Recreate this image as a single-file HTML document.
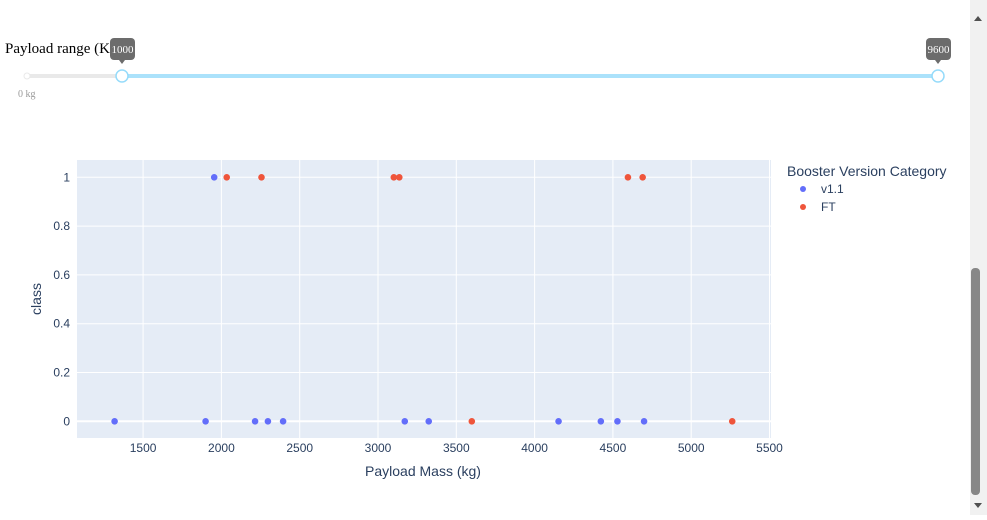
<!DOCTYPE html>
<html><head><meta charset="utf-8"><style>
body{margin:0;width:987px;height:515px;overflow:hidden;background:#fff;font-family:"Liberation Sans",sans-serif;}
</style></head><body>
<svg width="987" height="515" xmlns="http://www.w3.org/2000/svg">
<g>
<text x="5" y="53" font-family="Liberation Serif" font-size="15" fill="#000">Payload range (Kg</text>
<line x1="27" y1="76" x2="122" y2="76" stroke="#e9e9e9" stroke-width="4"/>
<line x1="122" y1="76" x2="938" y2="76" stroke="#abe2fb" stroke-width="4"/>
<circle cx="27" cy="76" r="3" fill="#fff" stroke="#e9e9e9"/>
<text x="18" y="97" font-family="Liberation Serif" font-size="10" fill="#999">0 kg</text>
<circle cx="122" cy="76" r="6" fill="#fff" stroke="#96dbfa" stroke-width="1.5"/>
<circle cx="938" cy="76" r="6" fill="#fff" stroke="#96dbfa" stroke-width="1.5"/>
<g><rect x="110" y="38" width="25" height="22" rx="4" fill="#6c6c6c"/><path d="M119 60 L122 64 L125 60Z" fill="#6c6c6c"/><text x="122.5" y="53" text-anchor="middle" font-family="Liberation Serif" font-size="11" fill="#fff">1000</text></g>
<g><rect x="926" y="38" width="25" height="22" rx="4" fill="#6c6c6c"/><path d="M935 60 L938 64 L941 60Z" fill="#6c6c6c"/><text x="938.5" y="53" text-anchor="middle" font-family="Liberation Serif" font-size="11" fill="#fff">9600</text></g>
</g>
<rect x="77" y="160" width="694" height="278" fill="#e5ecf6"/>
<g id="grid"></g><g id="ticks"></g><g id="pts"></g>
<text x="423" y="476" text-anchor="middle" font-size="14" fill="#2a3f5f">Payload Mass (kg)</text>
<text transform="translate(41,299) rotate(-90)" text-anchor="middle" font-size="14" fill="#2a3f5f">class</text>
<g>
<text x="787" y="176" font-size="14" fill="#2a3f5f">Booster Version Category</text>
<g><circle cx="803" cy="189" r="3" fill="#636efa"/><text x="821" y="193" font-size="12" fill="#2a3f5f">v1.1</text></g>
<g><circle cx="803" cy="207" r="3" fill="#ef553b"/><text x="821" y="211" font-size="12" fill="#2a3f5f">FT</text></g>
</g>
<g>
<rect x="970" y="0" width="17" height="515" fill="#f1f1f1"/>
<path d="M974 21 L978 16 L982 21Z" fill="#505050"/>
<path d="M974 503 L978 508 L982 503Z" fill="#505050"/>
<rect x="971" y="268" width="9" height="227" rx="4" fill="#878787"/>
</g>
</svg>
<script>
const xTicks=[1500,2000,2500,3000,3500,4000,4500,5000,5500];
const yTicks=[0,0.2,0.4,0.6,0.8,1];
const yTickLabels=["0","0.2","0.4","0.6","0.8","1"];
const v11Mass=[1954,1318,1899,2215,2297,2394,3171,3324,4153,4423,4529,4699];
const v11Class=[1,0,0,0,0,0,0,0,0,0,0,0];
const ftMass=[2034,2256,3101,3136,4596,4690,3599,5262];
const ftClass=[1,1,1,1,1,1,0,0];
const NS="http://www.w3.org/2000/svg";
function xs(v){return 143.1+(v-1500)*0.1566;}
function ys(v){return 421.3-v*244;}
function mk(t,a,p){const e=document.createElementNS(NS,t);for(const k in a)e.setAttribute(k,a[k]);p.appendChild(e);return e;}
const g=document.getElementById('grid'),tk=document.getElementById('ticks'),pts=document.getElementById('pts');
xTicks.forEach(v=>{const l=mk('line',{x1:xs(v),x2:xs(v),y1:160,y2:438,stroke:'#fff','stroke-width':1},g);


const t=mk('text',{x:xs(v),y:452,'text-anchor':'middle','font-size':12,fill:'#2a3f5f'},tk);t.textContent=v;

});
yTicks.forEach((v,i)=>{const l=mk('line',{x1:77,x2:771,y1:ys(v),y2:ys(v),stroke:'#fff','stroke-width':v===0?2:1},g);


const t=mk('text',{x:70,y:ys(v)+4,'text-anchor':'end','font-size':12,fill:'#2a3f5f'},tk);t.textContent=yTickLabels[i];

});
function series(m,c,col,name){m.forEach((v,i)=>{const p=mk('circle',{cx:xs(v),cy:ys(c[i]),r:3.3,fill:col},pts);

});}
series(v11Mass,v11Class,'#636efa','point-v1.1');
series(ftMass,ftClass,'#ef553b','point-ft');
</script>
</body></html>
